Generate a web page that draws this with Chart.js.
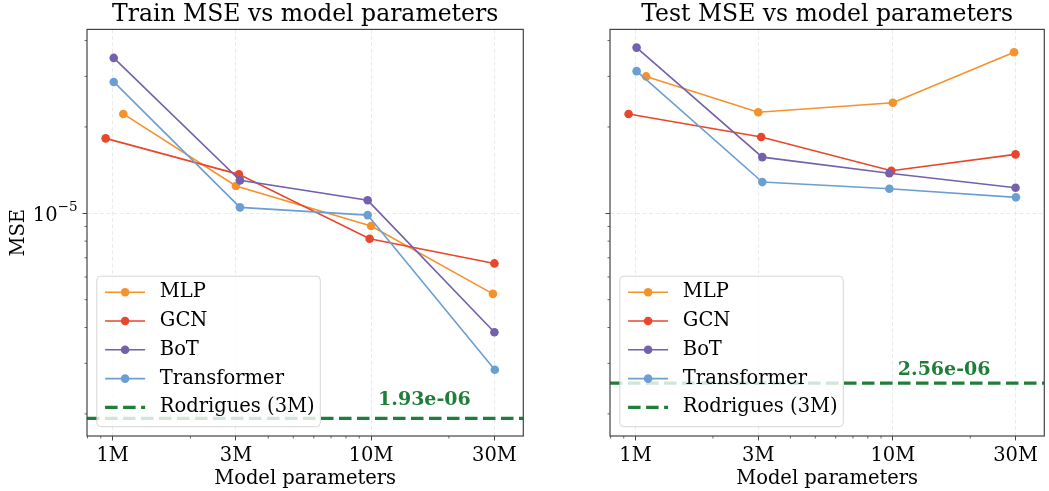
<!DOCTYPE html>
<html>
<head>
<meta charset="utf-8">
<script src="https://cdn.jsdelivr.net/npm/chart.js@4.4.1/dist/chart.umd.min.js"></script>
<style>
  html, body { margin: 0; padding: 0; background: #fff; }
  #wrap { position: relative; width: 1049px; height: 491px; }
  #trainBox { position: absolute; left: 0; top: 0; width: 540px; height: 491px; }
  #testBox { position: absolute; left: 540px; top: 0; width: 509px; height: 491px; }
</style>
</head>
<body>
<div id="wrap">
  <div id="trainBox"><canvas id="trainChart"></canvas></div>
  <div id="testBox"><canvas id="testChart"></canvas></div>
</div>
<script>

/* DATA */

const seriesNames = ["MLP", "GCN", "BoT", "Transformer"];
const seriesColors = ["#f5922b", "#e8472b", "#7460ad", "#6b9fd3"];

// parameter counts of each model (same in both panels)
const mlpParams = [1.10e6, 3.0e6, 1.0e7, 2.96e7];
const gcnParams = [0.94e6, 3.08e6, 9.87e6, 3.0e7];
const botParams = [1.01e6, 3.11e6, 9.7e6, 3.0e7];
const transformerParams = [1.01e6, 3.11e6, 9.7e6, 3.01e7];

const trainMLP = [2.22e-5, 1.245e-5, 9.03e-6, 5.24e-6];
const trainGCN = [1.825e-5, 1.367e-5, 8.15e-6, 6.69e-6];
const trainBoT = [3.48e-5, 1.303e-5, 1.11e-5, 3.85e-6];
const trainTransformer = [2.87e-5, 1.049e-5, 9.86e-6, 2.85e-6];

const testMLP = [3.0e-5, 2.25e-5, 2.43e-5, 3.64e-5];
const testGCN = [2.22e-5, 1.845e-5, 1.408e-5, 1.605e-5];
const testBoT = [3.78e-5, 1.57e-5, 1.38e-5, 1.228e-5];
const testTransformer = [3.13e-5, 1.285e-5, 1.218e-5, 1.137e-5];

const rodriguesLabel = "Rodrigues (3M)";
const rodriguesColor = "#1f7e38";
const trainRodrigues = 1.93e-6;
const testRodrigues = 2.56e-6;

const xTickValues = [1e6, 3e6, 1e7, 3e7];
const xTickLabels = ["1M", "3M", "10M", "30M"];
const xMinorTicks = [8e5, 9e5, 2e6, 4e6, 5e6, 6e6, 7e6, 8e6, 9e6, 2e7];
const yTickValues = [1e-5];
const yTickBases = ["10"];
const yTickExps = ["−5"];
const yMinorTicks = [2e-6, 3e-6, 4e-6, 5e-6, 6e-6, 7e-6, 8e-6, 9e-6, 2e-5, 3e-5, 4e-5];

const xMin = 7.96e5, xMax = 3.88e7;
const yMin = 1.675e-6, yMax = 4.375e-5;

const FONT = "'DejaVu Serif', 'Liberation Serif', serif";
const FRAME = "#444";


/* HELPERS */

function fmtExp(v) {
  const parts = v.toExponential(2).split("e");
  const e = Number(parts[1]);
  return parts[0] + "e" + (e < 0 ? "-" : "+") + String(Math.abs(e)).padStart(2, "0");
}

function pts(xs, ys) {
  return xs.map((x, i) => ({ x: x, y: ys[i] }));
}

function makeDatasets(values, rod) {
  const params = [mlpParams, gcnParams, botParams, transformerParams];
  const sets = values.map((vals, i) => ({
    label: seriesNames[i],
    data: pts(params[i], vals),
    borderColor: seriesColors[i],
    backgroundColor: seriesColors[i],
    borderWidth: 1.6,
    pointRadius: 4.3,
    pointBorderWidth: 0,
    pointHoverRadius: 4.3,
    order: 4 - i
  }));
  sets.push({
    label: rodriguesLabel,
    data: [{ x: xMin, y: rod }, { x: xMax, y: rod }],
    borderColor: rodriguesColor,
    backgroundColor: rodriguesColor,
    borderWidth: 3.3,
    borderDash: [12.5, 5.5],
    pointRadius: 0,
    order: 0
  });
  return sets;
}


/* PLUGIN: frame, minor ticks, y labels, legend, annotation */

function drawLegend(chart) {
  const ctx = chart.ctx;
  const a = chart.chartArea;
  const sets = chart.data.datasets;
  const w = 223.5, h = 150.5;
  const bx = a.left + 9.8, by = a.bottom - 9.3 - h;

  ctx.save();
  ctx.beginPath();
  ctx.roundRect(bx, by, w, h, 4);
  ctx.fillStyle = "rgba(255,255,255,0.8)";
  ctx.fill();
  ctx.strokeStyle = "rgba(204,204,204,0.8)";
  ctx.lineWidth = 1;
  ctx.stroke();

  sets.forEach((ds, i) => {
    const cy = by + 16 + i * 28.8;
    ctx.strokeStyle = ds.borderColor;
    ctx.lineWidth = ds.borderWidth;
    ctx.setLineDash(ds.borderDash || []);
    ctx.beginPath();
    ctx.moveTo(bx + 8.3, cy);
    ctx.lineTo(bx + 48.3, cy);
    ctx.stroke();
    ctx.setLineDash([]);
    if (ds.pointRadius > 0) {
      ctx.fillStyle = ds.backgroundColor;
      ctx.beginPath();
      ctx.arc(bx + 28.3, cy, ds.pointRadius, 0, Math.PI * 2);
      ctx.fill();
    }
    ctx.fillStyle = "#000";
    ctx.font = "19.5px " + FONT;
    ctx.textBaseline = "middle";
    ctx.fillText(ds.label, bx + 63, cy);
  });
  ctx.restore();
}

const panelDecor = {
  id: "panelDecor",
  afterDatasetsDraw(chart, args, opts) {
    const ctx = chart.ctx;
    const xs = chart.scales.x, ys = chart.scales.y;
    ctx.save();
    ctx.font = "bold 19px " + FONT;
    ctx.fillStyle = rodriguesColor;
    ctx.textBaseline = "alphabetic";
    ctx.fillText(fmtExp(opts.value), xs.getPixelForValue(1e7) + opts.dx, ys.getPixelForValue(opts.value) - opts.lift);
    ctx.restore();
    drawLegend(chart);
  },
  afterDraw(chart, args, opts) {
    const ctx = chart.ctx;
    const a = chart.chartArea;
    const xs = chart.scales.x, ys = chart.scales.y;
    ctx.save();
    ctx.strokeStyle = FRAME;
    ctx.lineWidth = 0.8;
    xMinorTicks.forEach(v => {
      const px = xs.getPixelForValue(v);
      if (px < a.left - 0.5 || px > a.right + 0.5) return;
      ctx.beginPath();
      ctx.moveTo(px, a.bottom);
      ctx.lineTo(px, a.bottom + 2.5);
      ctx.stroke();
    });
    yMinorTicks.forEach(v => {
      const py = ys.getPixelForValue(v);
      if (py < a.top - 0.5 || py > a.bottom + 0.5) return;
      ctx.beginPath();
      ctx.moveTo(a.left - 2.5, py);
      ctx.lineTo(a.left, py);
      ctx.stroke();
    });
    ctx.lineWidth = 1.2;
    ctx.strokeRect(a.left, a.top, a.right - a.left, a.bottom - a.top);

    // y tick labels as mathtext-like 10^-5
    if (opts.yLabels) {
      ctx.fillStyle = "#000";
      ctx.textBaseline = "alphabetic";
      yTickValues.forEach((v, i) => {
        const py = ys.getPixelForValue(v);
        ctx.font = "13.5px " + FONT;
        const we = ctx.measureText(yTickExps[i]).width;
        ctx.font = "19.5px " + FONT;
        const wb = ctx.measureText(yTickBases[i]).width;
        const right = a.left - 9.5;
        ctx.fillText(yTickBases[i], right - we - wb, py + 7.5);
        ctx.font = "13.5px " + FONT;
        ctx.fillText(yTickExps[i], right - we, py - 2.5);
      });
    }
    ctx.restore();
  }
};


/* CHART OPTIONS */

function makeOptions(title, yWidth, padRight, showYLabels, rod, dx, lift) {
  return {
    responsive: true,
    maintainAspectRatio: false,
    animation: false,
    events: [],
    layout: { padding: { left: 0, right: padRight, top: 0, bottom: 0 } },
    plugins: {
      legend: { display: false },
      tooltip: { enabled: false },
      title: {
        display: true,
        text: title,
        fullSize: false,
        color: "#000",
        font: { family: FONT, size: 23.5, weight: "normal", lineHeight: 1.2 },
        padding: { top: 1, bottom: 0.2 }
      },
      panelDecor: { value: rod, dx: dx, lift: lift, yLabels: showYLabels }
    },
    scales: {
      x: {
        type: "logarithmic",
        min: xMin,
        max: xMax,
        afterBuildTicks: s => { s.ticks = xTickValues.map(v => ({ value: v })); },
        afterFit: s => { s.height = 55; },
        ticks: {
          autoSkip: false,
          maxRotation: 0,
          padding: 4,
          color: "#000",
          font: { family: FONT, size: 19.5 },
          callback: v => xTickLabels[xTickValues.indexOf(v)]
        },
        grid: { color: "#e4e4e4", lineWidth: 0.8, tickColor: FRAME, tickLength: 4.5, tickWidth: 1 },
        border: { display: false, dash: [4, 2.5] },
        title: {
          display: true,
          text: "Model parameters",
          color: "#000",
          font: { family: FONT, size: 19.5, lineHeight: 1.2 },
          padding: { top: 0, bottom: 0.5 }
        }
      },
      y: {
        type: "logarithmic",
        min: yMin,
        max: yMax,
        afterBuildTicks: s => { s.ticks = yTickValues.map(v => ({ value: v })); },
        afterFit: s => { s.width = yWidth; },
        ticks: { display: false },
        grid: { color: "#e4e4e4", lineWidth: 0.8, tickColor: FRAME, tickLength: 4.5, tickWidth: 1 },
        border: { display: false, dash: [4, 2.5] },
        title: {
          display: showYLabels,
          text: "MSE",
          color: "#000",
          font: { family: FONT, size: 19.5, lineHeight: 1.2 },
          padding: { top: 7, bottom: 0 }
        }
      }
    }
  };
}


/* CHARTS */

new Chart(document.getElementById("trainChart"), {
  type: "line",
  data: { datasets: makeDatasets([trainMLP, trainGCN, trainBoT, trainTransformer], trainRodrigues) },
  options: makeOptions("Train MSE vs model parameters", 87, 16.7, true, trainRodrigues, 7, 13),
  plugins: [panelDecor]
});

new Chart(document.getElementById("testChart"), {
  type: "line",
  data: { datasets: makeDatasets([testMLP, testGCN, testBoT, testTransformer], testRodrigues) },
  options: makeOptions("Test MSE vs model parameters", 70, 4.7, false, testRodrigues, 5, 8.3),
  plugins: [panelDecor]
});

</script>
</body>
</html>
